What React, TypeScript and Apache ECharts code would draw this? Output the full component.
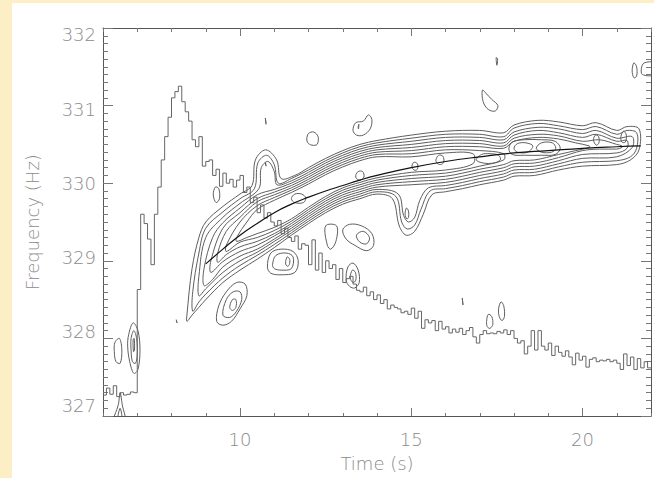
import React, { useEffect, useRef } from 'react';
import * as echarts from 'echarts';

// ---- axes ----
const timeMin = 6;
const timeMax = 22;
const freqMin = 327;
const freqMax = 332;
const timeLabelValues = [10, 15, 20];
const freqLabelValues = [327, 328, 329, 330, 331, 332];

// ---- step curve (0.1 s bins starting at 6.0 s) ----
const stepStart = 6.0;
const stepValues = [
  327.27, 327.36, 327.28, 327.39, 327.25, 327.30, 327.27, 327.28, 327.31, 327.30,
  328.63, 329.60, 329.48, 329.28, 328.95, 329.60, 329.95, 330.30, 330.60, 330.85,
  331.10, 331.18, 331.25, 331.05, 330.92, 330.80, 330.56, 330.47, 330.60, 330.22,
  330.28, 330.30, 330.10, 330.18, 329.96, 330.13, 330.00, 330.05, 329.95, 330.04,
  330.10, 329.88, 329.95, 329.75, 329.82, 329.62, 329.72, 329.55, 329.62, 329.50,
  329.45, 329.52, 329.35, 329.42, 329.30, 329.25, 329.32, 329.15, 329.22, 329.20,
  328.95, 329.27, 328.88, 329.10, 328.85, 329.00, 328.90, 328.95, 328.76, 328.90,
  328.72, 328.77, 328.80, 328.70, 328.62, 328.60, 328.66, 328.55, 328.60, 328.50,
  328.56, 328.45, 328.50, 328.38, 328.43, 328.40, 328.38, 328.33, 328.35, 328.31,
  328.39, 328.26, 328.35, 328.13, 328.24, 328.20, 328.23, 328.10, 328.22, 328.12,
  328.15, 328.07, 328.12, 328.08, 328.13, 328.05, 328.10, 328.14, 328.02, 327.94,
  328.05, 328.10, 328.06, 328.07, 328.06, 328.09, 328.07, 328.11, 328.05, 328.10,
  328.00, 327.94, 327.97, 327.80, 327.90, 328.10, 327.85, 328.10, 327.90, 327.85,
  327.94, 327.78, 327.90, 327.82, 327.77, 327.84, 327.76, 327.66, 327.81, 327.72,
  327.77, 327.63, 327.73, 327.75, 327.70, 327.72, 327.71, 327.73, 327.70, 327.72,
  327.68, 327.60, 327.80, 327.65, 327.76, 327.60, 327.74, 327.62, 327.70, 327.62,
  327.62,
];

// ---- fitted curve ----
const fitTimes = [9.0, 9.5, 10, 10.5, 11, 11.5, 12, 12.5, 13, 13.5, 14, 15, 16, 17, 18, 19, 20, 21, 21.7];
const fitFreqs = [328.96, 329.15, 329.33, 329.48, 329.62, 329.73, 329.82, 329.9, 329.97, 330.04, 330.1, 330.2, 330.28, 330.34, 330.39, 330.42, 330.45, 330.47, 330.48];

// ---- main ridge contour levels: upper and lower edges [time, freq] ----
const level1Upper = [[8.45,328.3],[8.6,328.9],[8.8,329.3],[9.0,329.5],[9.5,329.7],[10.0,329.86],[10.35,329.97],[10.45,330.3],[10.75,330.43],[11.07,330.3],[11.2,330.06],[11.6,330.1],[12.0,330.2],[12.5,330.32],[13.0,330.42],[13.5,330.5],[14.0,330.55],[15.0,330.62],[16.0,330.67],[17.0,330.68],[17.7,330.65],[18.0,330.75],[18.7,330.81],[19.3,330.79],[20.0,330.74],[20.4,330.78],[21.0,330.68],[21.3,330.73],[21.65,330.7]];
const level1Lower = [[8.45,328.22],[8.6,328.3],[8.8,328.4],[9.0,328.5],[9.5,328.72],[10.0,328.88],[10.5,329.02],[11.0,329.17],[11.5,329.33],[12.0,329.48],[12.5,329.62],[13.0,329.73],[13.5,329.8],[14.0,329.86],[14.45,329.8],[14.65,329.45],[14.85,329.33],[15.1,329.38],[15.35,329.6],[15.6,329.85],[16.0,329.89],[16.5,329.93],[17.0,329.98],[17.7,330.04],[18.0,330.09],[18.6,330.1],[19.3,330.17],[20.0,330.22],[21.0,330.24],[21.4,330.3],[21.65,330.43]];
const level2Upper = [[8.62,328.6],[8.8,329.1],[9.0,329.42],[9.5,329.63],[10.0,329.8],[10.42,329.93],[10.52,330.26],[10.78,330.36],[11.0,330.24],[11.12,330.0],[11.5,330.06],[12.0,330.17],[12.5,330.29],[13.0,330.39],[13.5,330.47],[14.0,330.52],[15.0,330.58],[16.0,330.63],[17.0,330.63],[17.7,330.6],[18.0,330.71],[18.7,330.77],[19.3,330.74],[20.0,330.69],[20.4,330.73],[21.0,330.63],[21.3,330.68],[21.58,330.65]];
const level2Lower = [[8.62,328.35],[8.8,328.47],[9.0,328.57],[9.5,328.78],[10.0,328.94],[10.5,329.07],[11.0,329.21],[11.5,329.36],[12.0,329.51],[12.5,329.65],[13.0,329.76],[13.5,329.83],[14.0,329.89],[14.55,329.83],[14.72,329.5],[14.88,329.41],[15.1,329.46],[15.28,329.66],[15.55,329.9],[16.0,329.93],[16.5,329.97],[17.0,330.02],[17.7,330.08],[18.0,330.13],[18.6,330.14],[19.3,330.21],[20.0,330.27],[21.0,330.29],[21.4,330.34],[21.58,330.45]];
const level3Upper = [[8.8,328.8],[9.0,329.3],[9.5,329.56],[10.0,329.74],[10.55,329.93],[10.62,330.2],[10.82,330.28],[11.0,330.15],[11.08,329.98],[11.5,330.03],[12.0,330.14],[12.5,330.26],[13.0,330.36],[13.5,330.44],[14.0,330.49],[15.0,330.54],[16.0,330.59],[17.0,330.59],[17.7,330.56],[18.0,330.66],[18.7,330.72],[19.3,330.7],[20.0,330.64],[20.4,330.68],[21.0,330.58],[21.45,330.6]];
const level3Lower = [[8.8,328.55],[9.0,328.64],[9.5,328.85],[10.0,329.0],[10.5,329.11],[11.0,329.25],[11.5,329.39],[12.0,329.54],[12.5,329.68],[13.0,329.79],[13.5,329.86],[14.0,329.92],[14.62,329.86],[14.78,329.58],[14.92,329.5],[15.1,329.56],[15.25,329.78],[15.5,329.94],[16.0,329.97],[16.5,330.01],[17.0,330.06],[17.7,330.12],[18.0,330.17],[18.6,330.18],[19.3,330.25],[20.0,330.32],[21.0,330.34],[21.45,330.46]];
const level4Upper = [[8.95,328.9],[9.2,329.3],[9.5,329.49],[10.0,329.68],[10.5,329.85],[11.0,329.92],[11.5,330.0],[12.0,330.11],[12.5,330.23],[13.0,330.33],[13.5,330.41],[14.0,330.46],[15.0,330.5],[16.0,330.55],[17.0,330.55],[17.7,330.52],[18.0,330.62],[18.7,330.68],[19.3,330.65],[20.0,330.59],[20.4,330.63],[21.0,330.54],[21.3,330.55]];
const level4Lower = [[8.95,328.68],[9.2,328.76],[9.5,328.92],[10.0,329.06],[10.5,329.15],[11.0,329.28],[11.5,329.42],[12.0,329.57],[12.5,329.71],[13.0,329.82],[13.5,329.89],[14.0,329.95],[15.0,329.98],[16.0,330.01],[16.5,330.05],[17.0,330.1],[17.7,330.16],[18.0,330.21],[18.6,330.22],[19.3,330.29],[20.0,330.37],[21.0,330.39],[21.3,330.45]];
const level5Upper = [[9.15,329.0],[9.5,329.42],[10.0,329.62],[10.5,329.8],[11.0,329.885],[11.5,329.97],[12.0,330.08],[12.5,330.2],[13.0,330.3],[13.5,330.38],[14.0,330.43],[15.0,330.46],[16.0,330.51],[17.0,330.51],[17.7,330.48],[18.0,330.58],[18.7,330.63],[19.3,330.61],[20.0,330.54],[20.5,330.56],[21.0,330.5],[21.15,330.48]];
const level5Lower = [[9.15,328.85],[9.5,328.99],[10.0,329.12],[10.5,329.2],[11.0,329.32],[11.5,329.45],[12.0,329.6],[12.5,329.74],[13.0,329.85],[13.5,329.92],[14.0,329.98],[15.0,330.02],[16.0,330.05],[16.5,330.09],[17.0,330.14],[17.7,330.2],[18.0,330.25],[18.6,330.26],[19.3,330.33],[20.0,330.42],[20.5,330.44],[21.0,330.44],[21.15,330.46]];
const level6Upper = [[9.35,329.1],[9.6,329.38],[10.0,329.56],[10.5,329.76],[11.0,329.85],[11.5,329.94],[12.0,330.05],[12.5,330.17],[13.0,330.27],[13.5,330.35],[14.0,330.4],[15.0,330.42],[16.0,330.47],[17.0,330.47],[17.7,330.45],[18.0,330.54],[18.7,330.59],[19.3,330.57],[19.8,330.52],[20.2,330.48]];
const level6Lower = [[9.35,328.98],[9.6,329.08],[10.0,329.18],[10.5,329.25],[11.0,329.35],[11.5,329.48],[12.0,329.63],[12.5,329.77],[13.0,329.88],[13.5,329.95],[14.0,330.01],[15.0,330.06],[16.0,330.09],[16.5,330.13],[17.0,330.18],[17.7,330.24],[18.0,330.29],[18.6,330.3],[19.3,330.37],[19.8,330.42],[20.2,330.46]];
const level7Upper = [[9.6,329.2],[10.0,329.5],[10.5,329.71],[11.0,329.815],[11.5,329.91],[12.0,330.02],[12.5,330.14],[13.0,330.24],[13.5,330.32],[14.0,330.37],[15.0,330.38],[16.0,330.43],[17.0,330.42],[17.7,330.38]];
const level7Lower = [[9.6,329.12],[10.0,329.24],[10.5,329.3],[11.0,329.39],[11.5,329.51],[12.0,329.66],[12.5,329.8],[13.0,329.91],[13.5,329.98],[14.0,330.04],[15.0,330.1],[16.0,330.13],[16.5,330.17],[17.0,330.22],[17.7,330.3]];
const level8Upper = [[9.9,329.3],[10.2,329.5],[10.5,329.66],[11.0,329.78],[11.5,329.88],[12.0,329.99],[12.5,330.11],[13.0,330.21],[13.5,330.29],[14.0,330.34],[15.0,330.34],[16.0,330.39],[16.8,330.38]];
const level8Lower = [[9.9,329.25],[10.2,329.3],[10.5,329.35],[11.0,329.43],[11.5,329.54],[12.0,329.69],[12.5,329.83],[13.0,329.94],[13.5,330.01],[14.0,330.07],[15.0,330.14],[16.0,330.17],[16.8,330.25]];

// ---- closed contour islands [time, freq] ----
const islands = [
  [[6.35,327.95],[6.48,328.0],[6.55,327.85],[6.5,327.68],[6.38,327.7],[6.33,327.83]],
  [[6.75,328.05],[6.88,328.2],[7.02,328.1],[7.08,327.85],[7.02,327.6],[6.9,327.55],[6.78,327.7],[6.72,327.9]],
  [[6.82,328.0],[6.9,328.1],[6.98,328.0],[7.0,327.8],[6.95,327.68],[6.86,327.7],[6.82,327.85]],
  [[6.88,327.98],[6.91,328.0],[6.92,327.85],[6.89,327.83]],
  [[6.3,326.9],[6.45,327.15],[6.5,327.3],[6.56,327.15],[6.65,326.9]],
  [[6.42,326.9],[6.5,327.1],[6.56,326.9]],
  [[9.32,328.22],[9.38,328.42],[9.6,328.6],[9.9,328.72],[10.15,328.7],[10.2,328.55],[10.0,328.38],[9.75,328.22],[9.5,328.17]],
  [[9.5,328.3],[9.6,328.5],[9.8,328.6],[10.0,328.6],[10.05,328.5],[9.9,328.35],[9.7,328.27]],
  [[9.7,328.4],[9.78,328.5],[9.88,328.5],[9.88,328.4],[9.78,328.36]],
  [[10.8,328.92],[10.9,329.1],[11.2,329.15],[11.55,329.12],[11.7,329.0],[11.6,328.85],[11.2,328.82],[10.9,328.84]],
  [[10.95,328.95],[11.05,329.07],[11.35,329.1],[11.55,329.05],[11.5,328.9],[11.2,328.88],[11.0,328.9]],
  [[11.33,328.97],[11.38,329.05],[11.45,329.02],[11.44,328.95],[11.38,328.93]],
  [[13.1,328.75],[13.15,328.92],[13.3,328.97],[13.45,328.88],[13.48,328.72],[13.35,328.65],[13.2,328.67]],
  [[13.22,328.78],[13.28,328.88],[13.37,328.85],[13.38,328.75],[13.3,328.72]],
  [[12.5,329.45],[12.55,329.2],[12.65,329.15],[12.8,329.25],[12.82,329.45]],
  [[13.0,329.4],[13.2,329.47],[13.55,329.45],[13.85,329.35],[13.9,329.2],[13.7,329.13],[13.35,329.2],[13.1,329.28]],
  [[13.4,329.33],[13.6,329.38],[13.78,329.3],[13.7,329.22],[13.5,329.24]],
  [[11.95,330.57],[12.0,330.64],[12.15,330.66],[12.28,330.6],[12.25,330.5],[12.1,330.49],[11.98,330.52]],
  [[13.3,330.68],[13.38,330.78],[13.6,330.8],[13.75,330.88],[13.85,330.82],[13.8,330.7],[13.6,330.62],[13.4,330.62]],
  [[13.45,330.72],[13.47,330.76],[13.46,330.7]],
  [[17.08,331.2],[17.1,331.05],[17.25,330.95],[17.45,330.93],[17.53,331.0],[17.35,331.08],[17.2,331.15]],
  [[17.48,331.62],[17.5,331.52],[17.52,331.6]],
  [[21.45,331.45],[21.5,331.55],[21.58,331.5],[21.58,331.38],[21.5,331.36]],
  [[22.1,331.55],[21.8,331.55],[21.72,331.48],[21.75,331.4],[22.1,331.4]],
  [[16.49,328.52],[16.51,328.43]],
  [[17.2,328.22],[17.25,328.31],[17.35,328.28],[17.38,328.18],[17.3,328.13],[17.22,328.15]],
  [[17.55,328.38],[17.62,328.47],[17.7,328.42],[17.72,328.28],[17.65,328.23],[17.57,328.28]],
  [[8.14,328.24],[8.16,328.2]],
  [[10.74,330.84],[10.76,330.76]],
  [[10.74,330.27],[10.76,330.22]],
  [[9.22,329.85],[9.28,329.95],[9.38,329.93],[9.4,329.8],[9.3,329.75]],
  [[14.82,329.6],[14.86,329.68],[14.92,329.64],[14.92,329.56],[14.87,329.54]],
  [[11.5,329.8],[11.6,329.86],[11.8,329.86],[11.92,329.81],[11.85,329.75],[11.6,329.75]],
  [[13.38,330.1],[13.45,330.15],[13.58,330.15],[13.62,330.08],[13.5,330.04],[13.4,330.06]],
  [[15.02,330.22],[15.08,330.27],[15.18,330.25],[15.18,330.18],[15.08,330.17]],
  [[15.72,330.3],[15.8,330.36],[15.92,330.35],[15.95,330.27],[15.85,330.24],[15.75,330.26]],
  [[16.9,330.3],[17.05,330.37],[17.3,330.38],[17.55,330.36],[17.6,330.3],[17.4,330.26],[17.1,330.26]],
  [[17.85,330.44],[17.95,330.53],[18.3,330.56],[18.8,330.56],[19.2,330.54],[19.35,330.45],[19.2,330.37],[18.8,330.36],[18.3,330.36],[17.95,330.37]],
  [[18.0,330.45],[18.1,330.51],[18.35,330.52],[18.55,330.48],[18.4,330.4],[18.1,330.4]],
  [[18.65,330.45],[18.8,330.52],[19.12,330.52],[19.22,330.45],[19.1,330.4],[18.8,330.4]],
  [[20.32,330.56],[20.38,330.62],[20.47,330.6],[20.48,330.52],[20.4,330.49]],
  [[21.12,330.6],[21.2,330.67],[21.28,330.62],[21.25,330.53],[21.15,330.53]],
];

const bandLevels = [
  [level1Upper, level1Lower],
  [level2Upper, level2Lower],
  [level3Upper, level3Lower],
  [level4Upper, level4Lower],
  [level5Upper, level5Lower],
  [level6Upper, level6Lower],
  [level7Upper, level7Lower],
  [level8Upper, level8Lower],
];

const textColor = '#8a8a8a';
const fontFamily = '"DejaVu Sans", "Liberation Sans", sans-serif';

export default function App() {
  const ref = useRef<HTMLDivElement>(null);

  useEffect(() => {
    if (!ref.current) return;
    const chart = echarts.init(ref.current, null, { renderer: 'svg' });

    const loops: number[][][] = [];
    bandLevels.forEach(([up, lo]) => {
      loops.push([...up, ...lo.slice().reverse()]);
    });
    islands.forEach((isl) => loops.push(isl));

    const stepData = stepValues.map((v, i) => [+(stepStart + i * 0.1).toFixed(1), v]);
    const fitData = fitTimes.map((t, i) => [t, fitFreqs[i]]);

    const labelStyle = {
      color: textColor,
      fontSize: 18,
      fontFamily,
      fontWeight: 200 as any,
    };

    chart.setOption({
      animation: false,
      backgroundColor: '#ffffff',
      grid: { left: 91, right: 3, top: 25, bottom: 62, containLabel: false },
      xAxis: [
        {
          type: 'value', min: timeMin, max: timeMax, interval: 1, position: 'bottom',
          axisLine: { show: true, onZero: false, lineStyle: { color: '#555', width: 1 } },
          axisTick: { show: true, inside: true, length: 3, lineStyle: { color: '#777' } },
          axisLabel: { show: false },
          splitLine: { show: false },
        },
        {
          type: 'value', min: timeMin, max: timeMax, position: 'bottom',
          axisLine: { show: false, onZero: false },
          axisTick: { show: true, inside: true, length: 8, customValues: timeLabelValues, lineStyle: { color: '#777' } },
          axisLabel: { show: true, customValues: timeLabelValues, margin: 14, ...labelStyle },
          splitLine: { show: false },
          name: 'Time (s)', nameLocation: 'middle', nameGap: 38,
          nameTextStyle: { ...labelStyle },
        },
        {
          type: 'value', min: timeMin, max: timeMax, interval: 1, position: 'top',
          axisLine: { show: true, onZero: false, lineStyle: { color: '#555', width: 1 } },
          axisTick: { show: true, inside: true, length: 4, lineStyle: { color: '#777' } },
          axisLabel: { show: false },
          splitLine: { show: false },
        },
        {
          type: 'value', min: timeMin, max: timeMax, position: 'top',
          axisLine: { show: false, onZero: false },
          axisTick: { show: true, inside: true, length: 8, customValues: timeLabelValues, lineStyle: { color: '#777' } },
          axisLabel: { show: false },
          splitLine: { show: false },
        },
      ],
      yAxis: [
        {
          type: 'value', min: freqMin, max: freqMax, interval: 1, position: 'left',
          axisLine: { show: true, onZero: false, lineStyle: { color: '#555', width: 1 } },
          axisTick: { show: true, inside: true, length: 10, lineStyle: { color: '#777' } },
          minorTick: { show: true, splitNumber: 10, length: 5, lineStyle: { color: '#777' } },
          axisLabel: { show: false },
          splitLine: { show: false },
        },
        {
          type: 'value', min: 326.865, max: 332.094, position: 'left',
          axisLine: { show: false, onZero: false },
          axisTick: { show: false },
          axisLabel: { show: true, customValues: freqLabelValues, margin: 7, ...labelStyle },
          splitLine: { show: false },
          name: 'Frequency (Hz)', nameLocation: 'middle', nameGap: 62,
          nameTextStyle: { ...labelStyle },
        },
        {
          type: 'value', min: freqMin, max: freqMax, interval: 1, position: 'right',
          axisLine: { show: true, onZero: false, lineStyle: { color: '#555', width: 1 } },
          axisTick: { show: true, inside: true, length: 10, lineStyle: { color: '#777' } },
          minorTick: { show: true, splitNumber: 10, length: 5, lineStyle: { color: '#777' } },
          axisLabel: { show: false },
          splitLine: { show: false },
        },
      ],
      series: [
        {
          type: 'line', xAxisIndex: 0, yAxisIndex: 0, step: 'end',
          data: stepData, showSymbol: false, symbol: 'none',
          lineStyle: { color: '#666666', width: 1 },
          clip: true, silent: true,
        },
        {
          type: 'custom', xAxisIndex: 0, yAxisIndex: 0, clip: true, silent: true,
          data: loops.map((l, i) => [l[0][0], l[0][1], i]),
          encode: { x: 0, y: 1 },
          renderItem: (params: any, api: any) => {
            const idx = api.value(2);
            const pts = loops[idx].map((p) => api.coord(p));
            return {
              type: 'polygon',
              shape: { points: pts, smooth: 0.35 },
              style: { fill: 'none', stroke: '#5e5e5e', lineWidth: 1 },
            };
          },
        },
        {
          type: 'line', xAxisIndex: 0, yAxisIndex: 0, smooth: true,
          data: fitData, showSymbol: false, symbol: 'none',
          lineStyle: { color: '#111111', width: 1.2 },
          silent: true,
        },
      ],
    });

    return () => chart.dispose();
  }, []);

  return (
    <div style={{ position: 'absolute', left: 0, top: 0, width: 654, height: 478, background: '#fcefc6', overflow: 'hidden' }}>
      <div ref={ref} style={{ position: 'absolute', left: 12, top: 3, width: 642, height: 475, background: '#ffffff' }} />
    </div>
  );
}
